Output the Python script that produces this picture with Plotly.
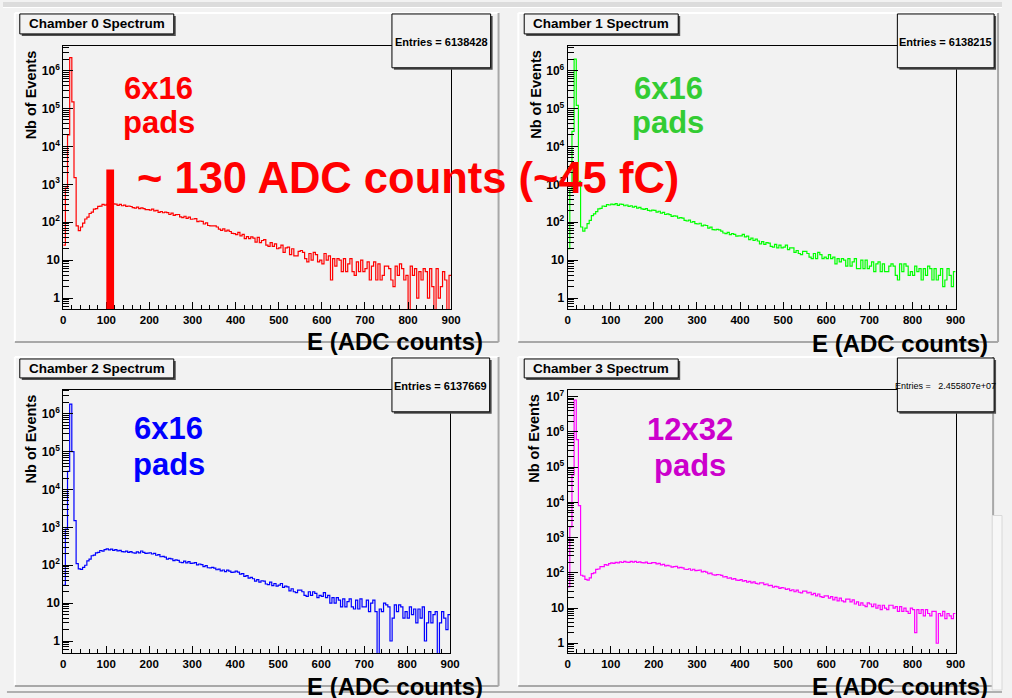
import plotly.graph_objects as go

W, H = 1012, 698
FONT = "Liberation Sans, Arial, Helvetica, sans-serif"

# ---------------- data ----------------
bin_width = 5
bin_edges = list(range(0, 900 + bin_width, bin_width))  # 0 .. 900

chamber0 = [
    25, 800, 20000, 2200000, 150000, 1500, 80, 60, 75, 95,
    122, 136, 170, 186, 222, 230, 262, 265, 295, 282,
    296, 310, 288, 305, 300, 280, 296, 272, 282, 262,
    268, 260, 243, 236, 250, 230, 240, 228, 215, 214,
    208, 222, 200, 205, 183, 192, 178, 186, 180, 160,
    174, 152, 158, 160, 138, 133, 144, 127, 136, 120,
    122, 124, 104, 108, 106, 90, 96, 82, 80, 80,
    80, 75, 66, 61, 67, 58, 62, 57, 51, 50,
    47, 54, 44, 48, 37, 42, 37, 41, 38, 30,
    40, 29, 33, 35, 25, 23, 29, 23, 27, 20,
    21, 25, 16, 21, 22, 14, 20, 13, 13, 17,
    18, 16, 11, 9, 15, 10, 16, 14, 9, 10,
    8, 15, 10, 13, 3, 11, 7, 11, 10, 5,
    11, 5, 8, 11, 5, 4, 9, 5, 10, 5,
    6, 9, 3, 7, 9, 3, 8, 3, 4, 7,
    7, 6, 3, 2, 7, 4, 8, 6, 3, 4,
    0, 7, 4, 6, 1, 5, 3, 6, 5, 1,
    6, 2, 0, 6, 1, 2, 5, 3, 0, 4,
]

chamber1 = [
    20, 700, 25000, 2000000, 120000, 1200, 75, 58, 70, 92,
    112, 150, 166, 190, 224, 232, 268, 262, 290, 285,
    300, 292, 310, 280, 300, 296, 272, 285, 262, 272,
    250, 262, 236, 248, 224, 218, 230, 206, 200, 210,
    206, 186, 195, 174, 182, 160, 166, 158, 142, 148,
    145, 128, 132, 128, 112, 108, 114, 100, 104, 92,
    90, 94, 80, 84, 82, 70, 74, 64, 63, 65,
    63, 58, 52, 50, 54, 47, 50, 48, 43, 44,
    44, 48, 41, 43, 35, 38, 33, 36, 32, 27,
    31, 26, 29, 28, 23, 22, 26, 21, 25, 21,
    22, 25, 19, 21, 21, 16, 18, 15, 14, 17,
    17, 15, 12, 11, 15, 11, 16, 14, 11, 12,
    11, 14, 11, 12, 8, 11, 9, 11, 10, 7,
    11, 7, 9, 11, 6, 6, 10, 6, 10, 6,
    7, 9, 5, 8, 9, 5, 8, 5, 5, 7,
    8, 7, 4, 3, 8, 5, 8, 7, 4, 5,
    4, 7, 5, 6, 3, 6, 4, 7, 6, 3,
    6, 3, 4, 6, 2, 3, 6, 4, 2, 5,
]

chamber2 = [
    30, 900, 30000, 1800000, 100000, 1500, 110, 80, 78, 88,
    100, 130, 145, 178, 185, 212, 220, 245, 235, 258,
    270, 255, 266, 248, 258, 240, 246, 230, 226, 236,
    218, 230, 214, 210, 226, 212, 238, 220, 206, 210,
    214, 198, 205, 184, 190, 168, 172, 164, 146, 152,
    148, 133, 139, 134, 120, 118, 128, 115, 124, 112,
    114, 118, 102, 108, 104, 92, 98, 86, 85, 88,
    84, 76, 79, 71, 75, 68, 74, 70, 65, 66,
    70, 66, 58, 60, 51, 53, 46, 48, 44, 38,
    42, 36, 39, 38, 32, 31, 36, 29, 33, 28,
    30, 33, 26, 28, 27, 21, 24, 20, 19, 22,
    22, 20, 16, 15, 20, 16, 20, 18, 14, 16,
    15, 19, 14, 16, 10, 14, 10, 14, 12, 8,
    13, 8, 11, 13, 8, 7, 12, 7, 13, 8,
    8, 12, 6, 10, 12, 6, 0, 7, 6, 10,
    9, 8, 1, 4, 9, 6, 9, 8, 4, 6,
    4, 8, 5, 7, 3, 7, 4, 8, 1, 3,
    6, 3, 5, 6, 0, 3, 6, 4, 2, 5,
]

chamber3 = [
    40, 2000, 60000, 8000000, 600000, 8000, 85, 80, 65, 62,
    72, 95, 100, 125, 128, 150, 150, 170, 165, 182,
    190, 184, 198, 192, 204, 196, 210, 200, 198, 210,
    200, 212, 196, 204, 194, 190, 200, 186, 184, 194,
    194, 178, 184, 168, 174, 158, 162, 156, 144, 150,
    152, 138, 142, 138, 126, 124, 130, 118, 126, 115,
    117, 120, 106, 109, 104, 94, 98, 88, 86, 89,
    88, 84, 76, 78, 70, 72, 66, 68, 62, 61,
    64, 58, 60, 54, 57, 52, 55, 50, 48, 52,
    52, 46, 48, 43, 44, 39, 41, 40, 36, 38,
    37, 34, 35, 31, 33, 29, 32, 28, 27, 30,
    30, 27, 28, 24, 26, 22, 25, 21, 20, 22,
    22, 19, 21, 17, 20, 16, 19, 16, 15, 18,
    18, 15, 17, 13, 15, 12, 14, 12, 11, 14,
    13, 11, 13, 10, 12, 9, 12, 10, 9, 12,
    12, 10, 11, 8, 11, 8, 10, 8, 7, 10,
    9, 2, 9, 7, 9, 6, 9, 7, 6, 8,
    8, 1, 7, 6, 8, 5, 7, 6, 5, 7,
]

series = [chamber0, chamber1, chamber2, chamber3]
titles = ["Chamber 0 Spectrum", "Chamber 1 Spectrum", "Chamber 2 Spectrum", "Chamber 3 Spectrum"]
entries = ["Entries = 6138428", "Entries = 6138215", "Entries = 6137669", "Entries =   2.455807e+07"]
pad_labels = [("6x16", "pads"), ("6x16", "pads"), ("6x16", "pads"), ("12x32", "pads")]
line_colors = ["#ff0000", "#00ff00", "#0000ff", "#ff00ff"]
label_colors = ["#ff0000", "#33cc33", "#0000ff", "#cc00cc"]
x_tick_vals = [0, 100, 200, 300, 400, 500, 600, 700, 800, 900]
y_tick_vals = [1, 10, 100, 1e3, 1e4, 1e5, 1e6, 1e7]
y_tick_text = ["1", "10", "10<sup>2</sup>", "10<sup>3</sup>", "10<sup>4</sup>",
               "10<sup>5</sup>", "10<sup>6</sup>", "10<sup>7</sup>"]
x_title = "E (ADC counts)"
y_title = "Nb of Events"
note_text = "~ 130 ADC counts (~45 fC)"
marker_adc = (100, 118)

# ---------------- layout geometry (pixels) ----------------
def X(p):
    return p / W

def Y(p):
    return 1 - p / H

frames = [(61, 454, 44, 308), (572, 965, 44, 308), (61, 453, 389, 653), (572, 965, 389, 653)]
yranges = [(-0.29, 6.65), (-0.29, 6.65), (-0.32, 6.63), (-0.28, 7.19)]
pads = [(12, 502, 11, 341), (522, 1008, 11, 341), (12, 502, 356, 686), (522, 1003, 356, 686)]
title_boxes = [(17, 173, 12, 32), (528, 684, 12, 32), (17, 173, 358, 377), (528, 684, 358, 377)]
stat_boxes = [(394, 494, 12, 66), (906, 1004, 12, 66), (394, 493, 357, 411), (906, 1004, 357, 411)]
label_pos = [(158, 87, 121), (674, 87, 121), (168, 428, 464), (696, 429, 465)]
xtitle_pos = [(488, 340), (1000, 342), (488, 686), (1000, 686)]
ytitle_pos = [(28, 93), (540, 93), (28, 438), (538, 438)]

fig = go.Figure()
shapes = []
annotations = []

minor_y = [k * 10 ** d for d in range(-1, 8) for k in range(2, 10)]

for i in range(4):
    xa = "x" if i == 0 else f"x{i+1}"
    ya = "y" if i == 0 else f"y{i+1}"
    vals = series[i]
    yplot = [v if v > 0 else 0.1 for v in vals] + [vals[-1] if vals[-1] > 0 else 0.1]
    fig.add_trace(go.Scatter(
        x=bin_edges, y=yplot, mode="lines", line=dict(color=line_colors[i], width=1.2, shape="hv"),
        xaxis=xa, yaxis=ya, showlegend=False, hoverinfo="skip"))

    fx0, fx1, fy0, fy1 = frames[i]
    axkey_x = "xaxis" if i == 0 else f"xaxis{i+1}"
    axkey_y = "yaxis" if i == 0 else f"yaxis{i+1}"
    fig.update_layout(**{
        axkey_x: dict(
            domain=[X(fx0), X(fx1)], anchor=ya, range=[0, 900],
            tickmode="array", tickvals=x_tick_vals, ticks="inside", ticklen=7, tickwidth=1,
            tickcolor="black",
            minor=dict(ticks="inside", ticklen=4, dtick=20, tick0=0, tickcolor="black", showgrid=False),
            showline=True, mirror=True, linecolor="black", linewidth=1,
            showgrid=False, zeroline=False,
            tickfont=dict(family=FONT, size=11.5, color="black", weight="bold"),
        ),
        axkey_y: dict(
            domain=[Y(fy1), Y(fy0)], anchor=xa, type="log", range=list(yranges[i]),
            tickmode="array", tickvals=y_tick_vals, ticktext=y_tick_text,
            ticks="inside", ticklen=10, tickwidth=1, tickcolor="black",
            minor=dict(ticks="inside", ticklen=6, tickmode="array", tickvals=minor_y,
                       tickcolor="black", showgrid=False),
            showline=True, mirror=True, linecolor="black", linewidth=1,
            showgrid=False, zeroline=False,
            tickfont=dict(family=FONT, size=12, color="black", weight="bold"),
        ),
    })

    # pad background and bevel borders
    px0, px1, py0, py1 = pads[i]
    shapes.append(dict(type="rect", xref="paper", yref="paper", x0=X(px0), x1=X(px1),
                       y0=Y(py1), y1=Y(py0), fillcolor="#f2f2f2", line=dict(width=0), layer="below"))
    shapes.append(dict(type="line", xref="paper", yref="paper", x0=X(px0), x1=X(px1),
                       y0=Y(py0), y1=Y(py0), line=dict(color="#ffffff", width=2), layer="below"))
    shapes.append(dict(type="line", xref="paper", yref="paper", x0=X(px0), x1=X(px0),
                       y0=Y(py0), y1=Y(py1), line=dict(color="#ffffff", width=2), layer="below"))
    shapes.append(dict(type="line", xref="paper", yref="paper", x0=X(px0), x1=X(px1),
                       y0=Y(py1), y1=Y(py1), line=dict(color="#a8a8a8", width=2), layer="below"))
    shapes.append(dict(type="line", xref="paper", yref="paper", x0=X(px1), x1=X(px1),
                       y0=Y(py0), y1=Y(py1), line=dict(color="#a8a8a8", width=2), layer="below"))

    # title box with shadow
    tx0, tx1, ty0, ty1 = title_boxes[i]
    shapes.append(dict(type="rect", xref="paper", yref="paper", x0=X(tx0 + 2), x1=X(tx1 + 2),
                       y0=Y(ty1 + 2), y1=Y(ty0 + 2), fillcolor="#505050", line=dict(width=0), layer="above"))
    shapes.append(dict(type="rect", xref="paper", yref="paper", x0=X(tx0), x1=X(tx1),
                       y0=Y(ty1), y1=Y(ty0), fillcolor="#f2f2f2", line=dict(color="black", width=1),
                       layer="above"))
    annotations.append(dict(text=titles[i], xref="paper", yref="paper", x=X((tx0 + tx1) / 2),
                            y=Y((ty0 + ty1) / 2), showarrow=False, xanchor="center", yanchor="middle",
                            font=dict(family=FONT, size=13.5, color="black", weight="bold")))

    # stats box with shadow
    sx0, sx1, sy0, sy1 = stat_boxes[i]
    shapes.append(dict(type="rect", xref="paper", yref="paper", x0=X(sx0 + 2), x1=X(sx1 + 2),
                       y0=Y(sy1 + 2), y1=Y(sy0 + 2), fillcolor="#505050", line=dict(width=0), layer="above"))
    shapes.append(dict(type="rect", xref="paper", yref="paper", x0=X(sx0), x1=X(sx1),
                       y0=Y(sy1), y1=Y(sy0), fillcolor="#f2f2f2", line=dict(color="black", width=1),
                       layer="above"))
    small = i == 3
    annotations.append(dict(text=entries[i], xref="paper", yref="paper", x=X((sx0 + sx1) / 2),
                            y=Y((sy0 + sy1) / 2 + 1), showarrow=False, xanchor="center", yanchor="middle",
                            font=dict(family=FONT, size=9 if small else 11, color="black",
                                      weight="normal" if small else "bold")))

    # pad labels
    lx, ly1, ly2 = label_pos[i]
    for txt, yy in zip(pad_labels[i], (ly1, ly2)):
        annotations.append(dict(text=txt, xref="paper", yref="paper", x=X(lx), y=Y(yy),
                                showarrow=False, xanchor="center", yanchor="middle",
                                font=dict(family=FONT, size=31, color=label_colors[i], weight="bold")))

    # axis titles
    ax_, ay_ = xtitle_pos[i]
    annotations.append(dict(text=x_title, xref="paper", yref="paper", x=X(ax_), y=Y(ay_),
                            showarrow=False, xanchor="right", yanchor="middle",
                            font=dict(family=FONT, size=24, color="black", weight="bold")))
    bx_, by_ = ytitle_pos[i]
    annotations.append(dict(text=y_title, xref="paper", yref="paper", x=X(bx_), y=Y(by_),
                            showarrow=False, xanchor="center", yanchor="middle", textangle=-90,
                            font=dict(family=FONT, size=14.5, color="black", weight="bold")))

# window decorations
shapes.insert(0, dict(type="rect", xref="paper", yref="paper", x0=0, x1=1, y0=Y(5), y1=1,
                      fillcolor="#dcdcdc", line=dict(width=0), layer="below"))
shapes.insert(1, dict(type="line", xref="paper", yref="paper", x0=0, x1=1, y0=Y(5.5), y1=Y(5.5),
                      line=dict(color="#ffffff", width=1), layer="below"))
shapes.append(dict(type="line", xref="paper", yref="paper", x0=X(4), x1=1, y0=Y(692), y1=Y(692),
                   line=dict(color="#b0b0b0", width=2), layer="below"))
shapes.append(dict(type="rect", xref="paper", yref="paper", x0=X(1002), x1=1, y0=Y(690), y1=Y(515),
                   fillcolor="#f7f7f7", line=dict(color="#d8d8d8", width=1), layer="below"))

# red marker bar on chamber 0 spectrum
shapes.append(dict(type="rect", xref="x", yref="y domain", x0=marker_adc[0], x1=marker_adc[1],
                   y0=0, y1=0.53, fillcolor="#ff0000", line=dict(width=0), layer="above"))

annotations.append(dict(text=note_text, xref="paper", yref="paper", x=X(410), y=Y(177),
                        showarrow=False, xanchor="center", yanchor="middle",
                        font=dict(family=FONT, size=43.5, color="#ff0000", weight="bold")))

fig.update_layout(
    width=W, height=H, margin=dict(l=0, r=0, t=0, b=0),
    paper_bgcolor="#f2f2f2", plot_bgcolor="#f2f2f2",
    shapes=shapes, annotations=annotations, showlegend=False,
)

fig.write_html("out.html")
